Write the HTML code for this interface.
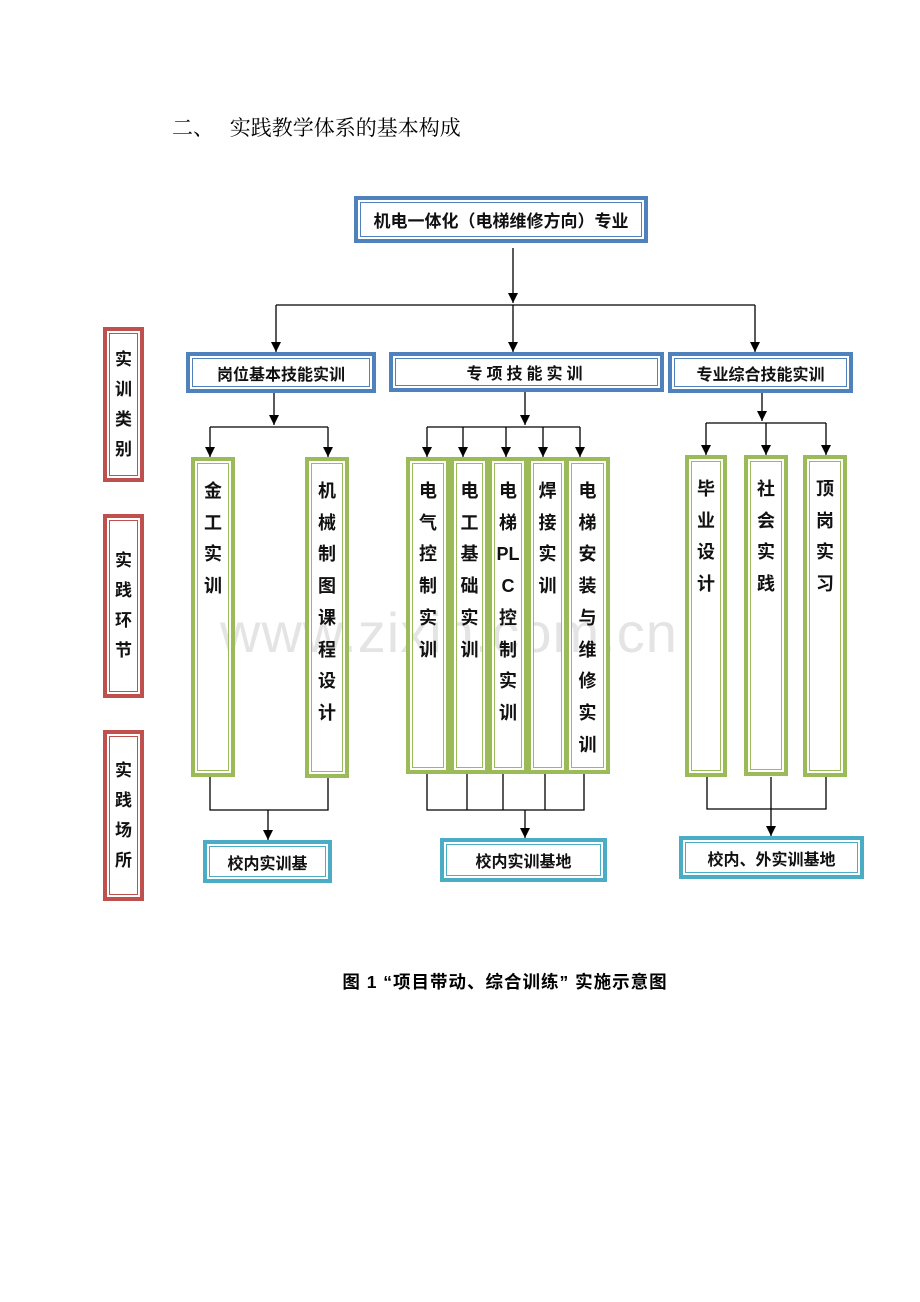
<!DOCTYPE html>
<html><head><meta charset="utf-8"><style>
body{margin:0;width:920px;height:1302px;background:#fff;position:relative;overflow:hidden;font-family:"Liberation Sans","Noto Sans CJK SC",sans-serif}
.b{position:absolute;box-sizing:border-box;display:flex;align-items:center;justify-content:center;font-weight:bold;color:#111;font-size:16px}
.blue{border:4px solid #4f81bd;box-shadow:inset 0 0 0 2px #fff,inset 0 0 0 3px #4f81bd}
.green{border:4px solid #9bbb59;box-shadow:inset 0 0 0 2px #fff,inset 0 0 0 3px #9bbb59}
.cyan{border:4px solid #4bacc6;box-shadow:inset 0 0 0 2px #fff,inset 0 0 0 3px #4bacc6}
.red{border:4px solid #c0504d;box-shadow:inset 0 0 0 2px #fff,inset 0 0 0 3px #c0504d}
.v{align-items:flex-start;font-size:18px;line-height:31.7px;text-align:center;padding-top:15px}
.r{font-size:17px;line-height:30px;text-align:center}
svg{position:absolute;left:0;top:0}
</style></head><body>
<div style="position:absolute;left:172px;top:112px;font-size:21px;font-family:'Liberation Serif','Noto Serif CJK SC',serif">二、&nbsp;&nbsp;&nbsp;实践教学体系的基本构成</div>
<div style="position:absolute;left:220px;top:600px;font-size:56px;color:#e4e4e4;letter-spacing:1px">www.zixin.com.cn</div>
<svg width="920" height="1302">
<defs><marker id="a" markerWidth="12" markerHeight="12" refX="10" refY="5" orient="auto" markerUnits="userSpaceOnUse"><path d="M0,0 L10,5 L0,10 z" fill="#000"/></marker></defs>
<g stroke="#000" stroke-width="1.3" fill="none">
<line x1="513" y1="248" x2="513" y2="303" marker-end="url(#a)"/>
<line x1="276" y1="305" x2="755" y2="305"/>
<line x1="276" y1="305" x2="276" y2="352" marker-end="url(#a)"/>
<line x1="513" y1="305" x2="513" y2="352" marker-end="url(#a)"/>
<line x1="755" y1="305" x2="755" y2="352" marker-end="url(#a)"/>
<line x1="274" y1="393" x2="274" y2="425" marker-end="url(#a)"/>
<line x1="210" y1="427" x2="328" y2="427"/>
<line x1="210" y1="427" x2="210" y2="457" marker-end="url(#a)"/>
<line x1="328" y1="427" x2="328" y2="457" marker-end="url(#a)"/>
<line x1="525" y1="392" x2="525" y2="425" marker-end="url(#a)"/>
<line x1="427" y1="427" x2="580" y2="427"/>
<line x1="427" y1="427" x2="427" y2="457" marker-end="url(#a)"/>
<line x1="463" y1="427" x2="463" y2="457" marker-end="url(#a)"/>
<line x1="506" y1="427" x2="506" y2="457" marker-end="url(#a)"/>
<line x1="543" y1="427" x2="543" y2="457" marker-end="url(#a)"/>
<line x1="580" y1="427" x2="580" y2="457" marker-end="url(#a)"/>
<line x1="762" y1="393" x2="762" y2="421" marker-end="url(#a)"/>
<line x1="706" y1="423" x2="826" y2="423"/>
<line x1="706" y1="423" x2="706" y2="455" marker-end="url(#a)"/>
<line x1="766" y1="423" x2="766" y2="455" marker-end="url(#a)"/>
<line x1="826" y1="423" x2="826" y2="455" marker-end="url(#a)"/>
<path d="M210,777 V810 H328 V778"/>
<line x1="268" y1="810" x2="268" y2="840" marker-end="url(#a)"/>
<path d="M427,774 V810 H584 V774 M467,774 V810 M503,774 V810 M545,774 V810"/>
<line x1="525" y1="810" x2="525" y2="838" marker-end="url(#a)"/>
<path d="M707,777 V809 H826 V777"/>
<line x1="771" y1="777" x2="771" y2="836" marker-end="url(#a)"/>
</g></svg>
<div class="b blue" style="left:354px;top:196px;width:294px;height:47px;font-size:17px">机电一体化（电梯维修方向）专业</div>
<div class="b blue" style="left:186px;top:352px;width:190px;height:41px">岗位基本技能实训</div>
<div class="b blue" style="left:389px;top:352px;width:275px;height:40px;letter-spacing:4px">专项技能实训</div>
<div class="b blue" style="left:668px;top:352px;width:185px;height:41px">专业综合技能实训</div>
<div class="b red r" style="left:103px;top:327px;width:41px;height:155px">实<br>训<br>类<br>别</div>
<div class="b red r" style="left:103px;top:514px;width:41px;height:184px">实<br>践<br>环<br>节</div>
<div class="b red r" style="left:103px;top:730px;width:41px;height:171px">实<br>践<br>场<br>所</div>
<div class="b green v" style="left:191px;top:457px;width:44px;height:320px">金<br>工<br>实<br>训</div>
<div class="b green v" style="left:305px;top:457px;width:44px;height:321px">机<br>械<br>制<br>图<br>课<br>程<br>设<br>计</div>
<div class="b green v" style="left:406px;top:457px;width:44px;height:317px">电<br>气<br>控<br>制<br>实<br>训</div>
<div class="b green v" style="left:450px;top:457px;width:39px;height:317px">电<br>工<br>基<br>础<br>实<br>训</div>
<div class="b green v" style="left:488px;top:457px;width:40px;height:317px">电<br>梯<br>PL<br>C<br>控<br>制<br>实<br>训</div>
<div class="b green v" style="left:527px;top:457px;width:41px;height:317px">焊<br>接<br>实<br>训</div>
<div class="b green v" style="left:565px;top:457px;width:45px;height:317px">电<br>梯<br>安<br>装<br>与<br>维<br>修<br>实<br>训</div>
<div class="b green v" style="left:685px;top:455px;width:42px;height:322px">毕<br>业<br>设<br>计</div>
<div class="b green v" style="left:744px;top:455px;width:44px;height:321px">社<br>会<br>实<br>践</div>
<div class="b green v" style="left:803px;top:455px;width:44px;height:322px">顶<br>岗<br>实<br>习</div>
<div class="b cyan" style="left:203px;top:840px;width:129px;height:43px">校内实训基</div>
<div class="b cyan" style="left:440px;top:838px;width:167px;height:44px">校内实训基地</div>
<div class="b cyan" style="left:679px;top:836px;width:185px;height:43px">校内、外实训基地</div>
<div style="position:absolute;left:0;width:1010px;top:969px;text-align:center;font-weight:bold;font-size:17.5px;letter-spacing:1px">图 1 “项目带动、综合训练” 实施示意图</div>
</body></html>
